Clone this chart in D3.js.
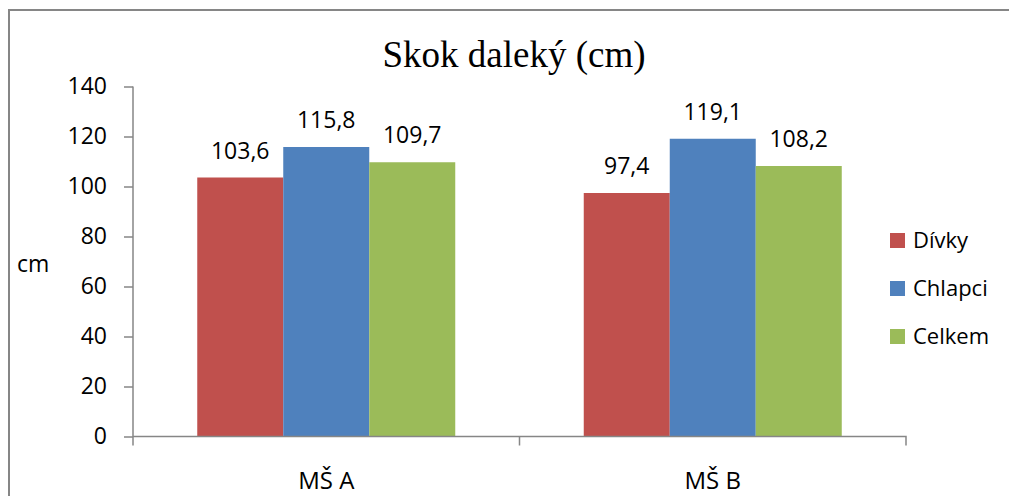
<!DOCTYPE html>
<html>
<head>
<meta charset="utf-8">
<script src="https://cdn.jsdelivr.net/npm/d3@7"></script>
<style>
  html, body { margin: 0; padding: 0; background: #fff; overflow: hidden; }
  svg { display: block; }
</style>
</head>
<body>
<script>
// Chart data
const categories = ["MŠ A", "MŠ B"];
const seriesNames = ["Dívky", "Chlapci", "Celkem"];
const divky = [103.6, 97.4];
const chlapci = [115.8, 119.1];
const celkem = [109.7, 108.2];
const yTicks = [0, 20, 40, 60, 80, 100, 120, 140];
const seriesColors = ["#C0504D", "#4F81BD", "#9BBB59"];

const seriesValues = [divky, chlapci, celkem];
const W = 1009, H = 496;
const font = "'Open Sans', 'Noto Sans', sans-serif";

const svg = d3.select("body").append("svg")
  .attr("width", W).attr("height", H);

svg.append("rect").attr("width", W).attr("height", H).attr("fill", "#fff");

// Outer frame: only the left and top edges fall inside the view
svg.append("path")
  .attr("d", `M9,${H}V10H${W}`)
  .attr("fill", "none").attr("stroke", "#868686").attr("stroke-width", 2);

const plot = { left: 133, right: 906, top: 86.5, bottom: 436.5 };

const x0 = d3.scaleBand().domain(categories).range([plot.left, plot.right]).paddingInner(0).paddingOuter(0);
const groupPad = 64.25;
const x1 = d3.scaleBand().domain(seriesNames)
  .range([groupPad, x0.bandwidth() - groupPad]).padding(0);
const y = d3.scaleLinear().domain([0, 140]).range([plot.bottom, plot.top]);

// Title
svg.append("text")
  .attr("x", 514).attr("y", 67)
  .attr("text-anchor", "middle")
  .attr("font-family", "'Liberation Serif', 'Times New Roman', serif")
  .attr("font-size", 37)
  .attr("fill", "#000")
  .text("Skok daleký (cm)");

// Bars
const groups = svg.append("g").selectAll("g")
  .data(categories)
  .join("g")
  .attr("transform", d => `translate(${x0(d)},0)`);

groups.selectAll("rect")
  .data((c, i) => seriesNames.map((s, j) => ({ s, v: seriesValues[j][i], c: seriesColors[j] })))
  .join("rect")
  .attr("x", d => x1(d.s))
  .attr("y", d => y(d.v))
  .attr("width", x1.bandwidth())
  .attr("height", d => y(0) - y(d.v))
  .attr("fill", d => d.c);

// Value labels
const fmt = v => d3.format(".1f")(v).replace(".", ",");
groups.selectAll("text")
  .data((c, i) => seriesNames.map((s, j) => ({ s, v: seriesValues[j][i] })))
  .join("text")
  .attr("x", d => x1(d.s) + x1.bandwidth() / 2)
  .attr("y", d => y(d.v) - 19)
  .attr("text-anchor", "middle")
  .attr("font-family", font)
  .attr("font-size", 23)
  .attr("fill", "#000")
  .text(d => fmt(d.v));

// Y axis
const yAxis = d3.axisLeft(y).tickValues(yTicks).tickSize(9).tickPadding(17).tickSizeOuter(0);
const gy = svg.append("g").attr("transform", `translate(${plot.left},0)`).call(yAxis);
gy.select(".domain").attr("stroke", "#868686").attr("stroke-width", 1.5)
  .attr("d", `M0,${plot.top}V${plot.bottom + 9}`);
gy.selectAll(".tick line").attr("stroke", "#868686").attr("stroke-width", 1.5);
gy.selectAll(".tick text")
  .attr("font-family", font).attr("font-size", 23).attr("fill", "#000");

// X axis
const xAxis = d3.axisBottom(x0).tickSize(0).tickPadding(0);
const gx = svg.append("g").attr("transform", `translate(0,${plot.bottom})`).call(xAxis);
gx.select(".domain").attr("stroke", "#868686").attr("stroke-width", 1.5)
  .attr("d", `M${plot.left},0H${plot.right}V9`);
gx.selectAll(".tick text")
  .attr("dy", null)
  .attr("y", 52)
  .attr("font-family", font).attr("font-size", 24).attr("fill", "#000");
// Category divider ticks
svg.append("g").selectAll("line")
  .data(categories.slice(1))
  .join("line")
  .attr("x1", d => x0(d)).attr("x2", d => x0(d))
  .attr("y1", plot.bottom).attr("y2", plot.bottom + 9)
  .attr("stroke", "#868686").attr("stroke-width", 1.5);

// Y axis title
svg.append("text")
  .attr("x", 17).attr("y", 272)
  .attr("font-family", font).attr("font-size", 23).attr("fill", "#000")
  .text("cm");

// Legend
const legend = svg.append("g").selectAll("g")
  .data(seriesNames)
  .join("g")
  .attr("transform", (d, i) => `translate(890,${233 + i * 48})`);
legend.append("rect")
  .attr("width", 15).attr("height", 15)
  .attr("fill", (d, i) => seriesColors[i]);
legend.append("text")
  .attr("x", 23).attr("y", 15)
  .attr("font-family", font).attr("font-size", 22).attr("fill", "#000")
  .text(d => d);
</script>
</body>
</html>
